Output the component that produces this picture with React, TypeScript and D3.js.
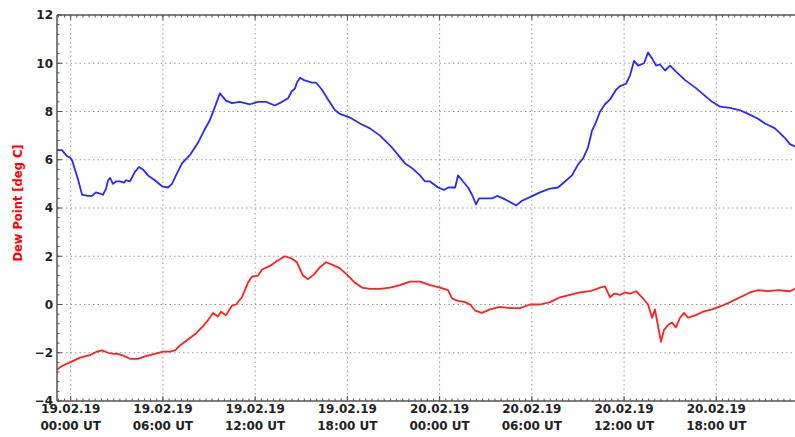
import React, { useEffect, useRef } from "react";
import * as d3 from "d3";

// hours since 19.02.19 00:00 UT
const blueHours = [-0.89,-0.57,-0.24,-0.05,0.08,0.47,0.74,1.13,1.39,1.64,1.9,2.1,2.3,2.43,2.56,2.75,2.95,3.21,3.47,3.6,3.86,4.18,4.44,4.7,5.03,5.48,5.94,6.33,6.59,6.85,7.24,7.76,8.28,8.67,9.06,9.39,9.71,9.84,10.1,10.49,11.01,11.66,12.19,12.71,13.29,13.75,14.14,14.4,14.59,14.72,14.92,15.18,15.7,15.96,16.35,16.74,17.2,17.52,18.17,18.82,19.47,20.12,20.77,21.3,21.75,22.21,22.73,23.05,23.38,23.9,24.29,24.55,25.01,25.2,25.46,25.85,26.11,26.37,26.57,26.96,27.41,27.74,28.13,28.58,28.97,29.36,29.88,30.53,31.18,31.7,32.16,32.61,33.0,33.33,33.65,33.91,34.17,34.44,34.76,35.09,35.48,35.74,36.13,36.39,36.65,36.91,37.3,37.56,37.82,38.08,38.34,38.67,38.99,39.38,39.97,40.62,41.27,41.73,42.25,42.9,43.55,44.07,44.72,45.17,45.82,46.47,46.79,47.12];
const blueValues = [6.4,6.4,6.15,6.1,6.0,5.2,4.55,4.5,4.5,4.65,4.6,4.55,4.8,5.15,5.25,5.0,5.1,5.1,5.05,5.15,5.1,5.5,5.7,5.6,5.35,5.15,4.9,4.85,5.0,5.35,5.85,6.2,6.7,7.2,7.65,8.2,8.75,8.65,8.45,8.35,8.4,8.3,8.4,8.4,8.25,8.4,8.55,8.85,8.95,9.2,9.4,9.3,9.2,9.2,8.9,8.5,8.05,7.9,7.75,7.5,7.3,7.0,6.6,6.2,5.85,5.65,5.35,5.1,5.1,4.85,4.75,4.85,4.85,5.35,5.15,4.85,4.55,4.15,4.4,4.4,4.4,4.5,4.4,4.25,4.1,4.3,4.45,4.65,4.8,4.85,5.1,5.35,5.8,6.05,6.5,7.2,7.55,8.0,8.3,8.5,8.9,9.05,9.15,9.5,10.1,9.9,10.0,10.45,10.2,9.9,9.95,9.7,9.9,9.65,9.3,9.0,8.65,8.4,8.2,8.15,8.05,7.9,7.7,7.5,7.3,6.9,6.65,6.55];

const redHours = [-0.89,-0.57,-0.05,0.61,1.26,1.71,2.04,2.43,2.75,3.08,3.53,3.86,4.38,4.83,5.48,6.01,6.46,6.79,7.11,7.63,8.15,8.61,8.93,9.26,9.58,9.78,10.1,10.49,10.75,11.14,11.53,11.79,12.19,12.45,12.97,13.42,13.94,14.4,14.72,15.11,15.44,15.83,16.22,16.61,17.0,17.52,18.04,18.5,18.95,19.47,20.12,20.77,21.43,22.08,22.73,23.38,24.03,24.55,24.81,25.2,25.66,25.98,26.31,26.76,27.28,27.93,28.58,29.23,29.88,30.53,31.18,31.83,32.48,33.13,33.78,34.44,34.76,35.09,35.35,35.74,36.06,36.39,36.78,37.17,37.56,37.82,38.01,38.21,38.4,38.6,38.86,39.12,39.38,39.64,39.9,40.16,40.62,41.14,41.73,42.38,42.9,43.55,44.2,44.72,45.37,46.02,46.79,47.12];
const redValues = [-2.7,-2.55,-2.4,-2.2,-2.1,-1.95,-1.9,-2.0,-2.05,-2.05,-2.15,-2.25,-2.25,-2.15,-2.05,-1.95,-1.95,-1.9,-1.7,-1.45,-1.2,-0.9,-0.65,-0.35,-0.5,-0.3,-0.45,-0.05,0.0,0.3,0.9,1.15,1.2,1.45,1.6,1.8,2.0,1.9,1.75,1.2,1.05,1.25,1.55,1.75,1.65,1.5,1.2,0.9,0.7,0.65,0.65,0.7,0.8,0.95,0.95,0.8,0.7,0.6,0.25,0.15,0.1,0.0,-0.25,-0.35,-0.2,-0.1,-0.15,-0.15,0.0,0.0,0.1,0.3,0.4,0.5,0.55,0.7,0.75,0.3,0.45,0.4,0.5,0.45,0.55,0.3,0.0,-0.55,-0.2,-0.9,-1.55,-1.05,-0.85,-0.75,-0.95,-0.55,-0.35,-0.55,-0.45,-0.3,-0.2,-0.05,0.1,0.3,0.5,0.6,0.55,0.6,0.55,0.65];

const xTickHours = [0, 6, 12, 18, 24, 30, 36, 42];
const xTickDates = ["19.02.19","19.02.19","19.02.19","19.02.19","20.02.19","20.02.19","20.02.19","20.02.19"];
const xTickTimes = ["00:00 UT","06:00 UT","12:00 UT","18:00 UT","00:00 UT","06:00 UT","12:00 UT","18:00 UT"];
const yTicks = [-4, -2, 0, 2, 4, 6, 8, 10, 12];
const yLabel = "Dew Point [deg C]";

const W = 795, H = 437;
const left = 57, right = 795, top = 15, bottom = 401;

export default function App() {
  const ref = useRef<SVGSVGElement>(null);
  useEffect(() => {
    const svg = d3.select(ref.current);
    svg.selectAll("*").remove();
    const x = d3.scaleLinear().domain([-0.89, 47.12]).range([left, right]);
    const y = d3.scaleLinear().domain([-4, 12]).range([bottom, top]);
    const font = "DejaVu Sans, sans-serif";
    const axisCol = "#555";

    const g = svg.append("g");
    // grid
    g.selectAll(".gx").data(xTickHours).enter().append("line")
      .attr("x1", d => x(d)).attr("x2", d => x(d)).attr("y1", top).attr("y2", bottom)
      .attr("stroke", "#999").attr("stroke-width", 1).attr("stroke-dasharray", "1.5,3");
    g.selectAll(".gy").data(yTicks.filter(v => v > -4 && v < 12)).enter().append("line")
      .attr("x1", left).attr("x2", right).attr("y1", d => y(d)).attr("y2", d => y(d))
      .attr("stroke", "#999").attr("stroke-width", 1).attr("stroke-dasharray", "1.5,3");

    // minor ticks
    const yMinor = d3.range(-4, 12.001, 0.4);
    g.selectAll(".ym").data(yMinor).enter().append("line")
      .attr("x1", left).attr("x2", left + 2.5).attr("y1", d => y(d)).attr("y2", d => y(d))
      .attr("stroke", axisCol).attr("stroke-width", 1);
    g.selectAll(".yM").data(yTicks).enter().append("line")
      .attr("x1", left).attr("x2", left + 5).attr("y1", d => y(d)).attr("y2", d => y(d))
      .attr("stroke", axisCol).attr("stroke-width", 1);
    const xMinor = d3.range(0, 50, 0.4).concat([-0.4, -0.8]);
    g.selectAll(".xm").data(xMinor).enter().append("line")
      .attr("x1", d => x(d)).attr("x2", d => x(d)).attr("y1", bottom).attr("y2", bottom - 2.5)
      .attr("stroke", axisCol).attr("stroke-width", 1);
    g.selectAll(".xmt").data(xMinor).enter().append("line")
      .attr("x1", d => x(d)).attr("x2", d => x(d)).attr("y1", top).attr("y2", top + 2.5)
      .attr("stroke", axisCol).attr("stroke-width", 1);
    g.selectAll(".xM").data(xTickHours).enter().append("line")
      .attr("x1", d => x(d)).attr("x2", d => x(d)).attr("y1", bottom).attr("y2", bottom - 5)
      .attr("stroke", axisCol).attr("stroke-width", 1);
    g.selectAll(".xMt").data(xTickHours).enter().append("line")
      .attr("x1", d => x(d)).attr("x2", d => x(d)).attr("y1", top).attr("y2", top + 5)
      .attr("stroke", axisCol).attr("stroke-width", 1);

    // lines
    const line = d3.line<[number, number]>().x(d => x(d[0])).y(d => y(d[1]));
    const blue: [number, number][] = blueHours.map((h, i) => [h, blueValues[i]]);
    const red: [number, number][] = redHours.map((h, i) => [h, redValues[i]]);
    g.append("path").attr("d", line(blue)!).attr("fill", "none").attr("stroke", "#2a2aff").attr("stroke-width", 1.8).attr("stroke-linejoin", "round");
    g.append("path").attr("d", line(red)!).attr("fill", "none").attr("stroke", "#ff2020").attr("stroke-width", 1.8).attr("stroke-linejoin", "round");

    // spines
    g.append("line").attr("x1", left).attr("x2", left).attr("y1", top).attr("y2", bottom).attr("stroke", axisCol).attr("stroke-width", 1.5);
    g.append("line").attr("x1", left).attr("x2", right).attr("y1", top).attr("y2", top).attr("stroke", axisCol).attr("stroke-width", 1.5);
    g.append("line").attr("x1", left).attr("x2", right).attr("y1", bottom).attr("y2", bottom).attr("stroke", axisCol).attr("stroke-width", 1.5);

    // y tick labels
    g.selectAll(".yl").data(yTicks).enter().append("text")
      .attr("x", left - 4).attr("y", d => y(d)).attr("dy", "0.36em")
      .attr("text-anchor", "end").attr("font-family", font).attr("font-weight", "bold")
      .attr("font-size", 12).attr("fill", "#222")
      .text(d => (d < 0 ? "\u2212" + Math.abs(d) : String(d)));

    // x tick labels
    const xl = g.selectAll(".xl").data(xTickHours).enter().append("text")
      .attr("text-anchor", "middle").attr("font-family", font).attr("font-weight", "bold")
      .attr("font-size", 12).attr("fill", "#222");
    xl.append("tspan").attr("x", d => x(d)).attr("y", 413).text((d, i) => xTickDates[i]);
    xl.append("tspan").attr("x", d => x(d)).attr("y", 430).text((d, i) => xTickTimes[i]);

    // y axis label
    g.append("text").attr("transform", `translate(22,${(top + bottom) / 2 - 5}) rotate(-90)`)
      .attr("text-anchor", "middle").attr("font-family", font).attr("font-weight", "bold")
      .attr("font-size", 11.5).attr("fill", "#ff0000").text(yLabel);
  }, []);
  return (
    <svg ref={ref} width={W} height={H} style={{ position: "absolute", left: 0, top: 0, background: "#fff" }} />
  );
}
